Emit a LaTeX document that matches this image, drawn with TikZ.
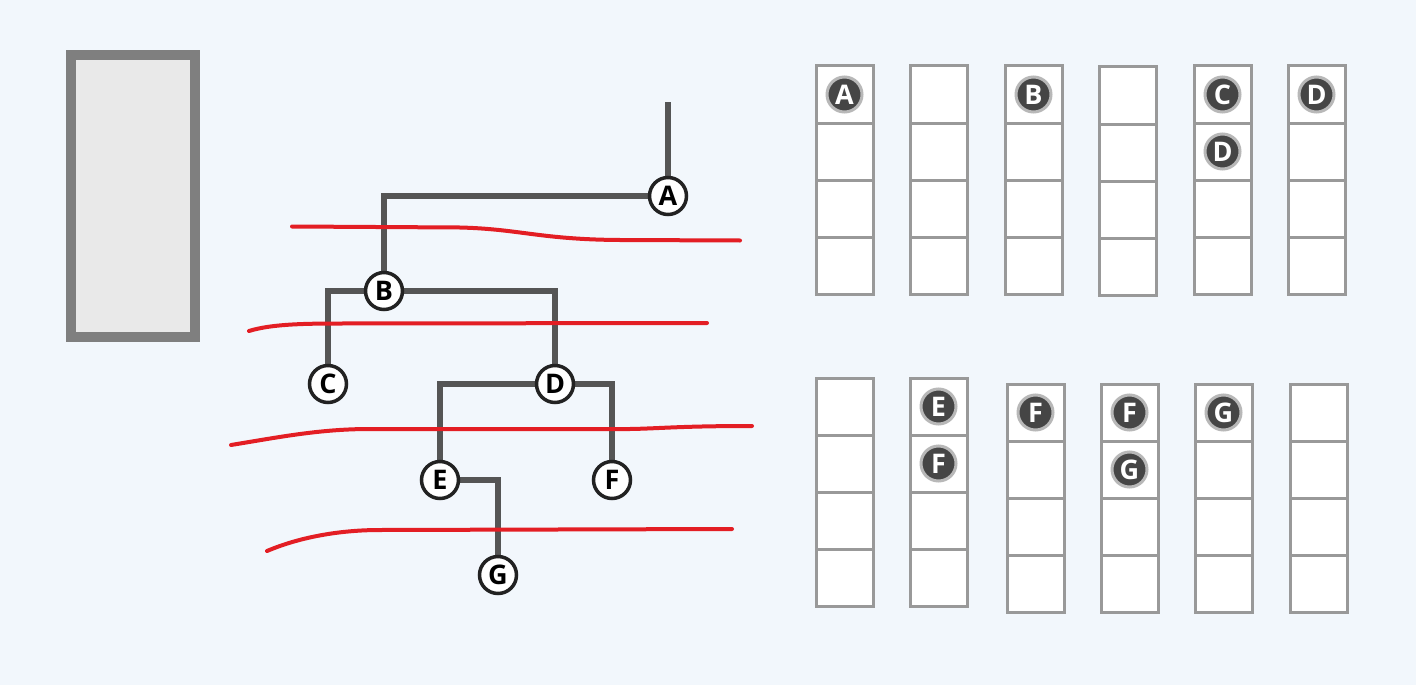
\documentclass[tikz,border=0pt]{standalone}
\usepackage{fontspec}
\setmainfont{Open Sans}
\usetikzlibrary{backgrounds}
\definecolor{bg}{HTML}{F2F7FC}
\definecolor{edgegray}{HTML}{555555}
\definecolor{nodeedge}{HTML}{222222}
\definecolor{cutred}{HTML}{E31E24}
\definecolor{cellgray}{HTML}{999999}
\definecolor{balldark}{HTML}{454545}
\definecolor{ballring}{HTML}{B8B8B8}
\definecolor{boxedge}{HTML}{7F7F7F}
\definecolor{boxfill}{HTML}{E9E9E9}
\begin{document}
\begin{tikzpicture}[x=1pt,y=-1pt,
  tnode/.style={circle, draw=nodeedge, line width=3.5pt, fill=white, minimum size=37pt, inner sep=0pt, font=\bfseries\fontsize{27}{27}\selectfont, text=black},
  tedge/.style={draw=edgegray, line width=6pt},
  cut/.style={draw=cutred, line width=4pt, line cap=round},
  cell/.style={rectangle, draw=cellgray, line width=3pt, fill=white, minimum width=57pt, minimum height=57pt, inner sep=0pt, outer sep=0pt},
  ball/.style={circle, fill=balldark, draw=ballring, line width=3pt, minimum size=35pt, inner sep=0pt, text=white, font=\bfseries\fontsize{27}{27}\selectfont},
  bigbox/.style={draw=boxedge, fill=boxfill, line width=10pt}
]
\begin{scope}[on background layer]
\fill[bg] (0,0) rectangle (1416,685);
\end{scope}
\useasboundingbox (0,0) rectangle (1416,685);

% left box
\draw[bigbox] (71,55) rectangle (195,337);

% tree nodes
\coordinate (top) at (668,102);
\node[tnode] (A) at (668,196) {A};
\node[tnode] (B) at (384,291) {B};
\node[tnode] (C) at (328,384) {C};
\node[tnode] (D) at (555,384) {D};
\node[tnode] (E) at (440,480) {E};
\node[tnode] (F) at (612,480) {F};
\node[tnode] (G) at (498,575) {G};

% tree edges (behind nodes)
\begin{scope}[on background layer]
\draw[tedge] (top) -- (A);
\draw[tedge] (A) -| (B);
\draw[tedge] (B) -| (C);
\draw[tedge] (B) -| (D);
\draw[tedge] (D) -| (E);
\draw[tedge] (D) -| (F);
\draw[tedge] (E) -| (G);
\end{scope}

% red cut lines
\draw[cut] (292,226.5) -- (460,227.5) .. controls (520,229) and (540,239.5) .. (620,240) -- (740,240.5);
\draw[cut] (249,331) .. controls (270,324.5) and (300,323.5) .. (340,323.5) -- (707,323);
\draw[cut] (231,445) .. controls (280,437) and (320,429) .. (370,429) -- (630,429) .. controls (660,428.5) and (680,426) .. (752,426);
\draw[cut] (267,551) .. controls (300,537) and (340,530) .. (380,530) -- (732,529);

% stacks
\foreach \s/\l/\t in {1/816/66,2/910/66,3/1005/66,4/1099/67,5/1194/66,6/1288/66,
                      7/816/378,8/910/378,9/1007/384,10/1101/384,11/1195/384,12/1290/384}
  \foreach \k in {1,...,4}
    \node[cell] (s\s c\k) at ({\l+28.5},{\t+28.5+57*(\k-1)}) {};

% balls
\node[ball] (bA) at (s1c1) {A};
\node[ball] (bB) at (s3c1) {B};
\node[ball] (bC) at (s5c1) {C};
\node[ball] (bD1) at (s5c2) {D};
\node[ball] (bD2) at (s6c1) {D};
\node[ball] (bE) at (s8c1) {E};
\node[ball] (bF1) at (s8c2) {F};
\node[ball] (bF2) at (s9c1) {F};
\node[ball] (bF3) at (s10c1) {F};
\node[ball] (bG1) at (s10c2) {G};
\node[ball] (bG2) at (s11c1) {G};
\end{tikzpicture}
\end{document}
